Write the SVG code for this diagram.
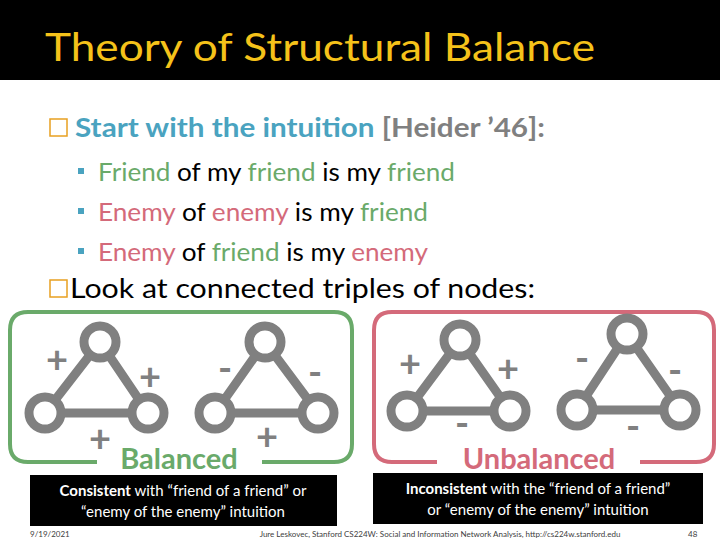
<svg xmlns="http://www.w3.org/2000/svg" width="720" height="540" viewBox="0 0 720 540">
<style>
text{font-family:Lato,"Liberation Sans",sans-serif}
.e{stroke:#808080;stroke-width:9;fill:none}
.n{stroke:#808080;stroke-width:9;fill:#fff}
.s{fill:#808080;font-size:38px;font-weight:bold;text-anchor:middle}
.g{fill:#6aaa6a}.r{fill:#d46a7a}.k{fill:#000}
.w{fill:#fff;font-size:15px;text-anchor:middle}
</style>
<rect width="720" height="540" fill="#fff"/>
<rect width="720" height="80" fill="#000"/>
<text x="45" y="61" font-size="38" fill="#f5c21a" textLength="550" lengthAdjust="spacingAndGlyphs">Theory of Structural Balance</text>
<g font-size="26">
<rect x="50" y="119" width="17" height="17" fill="none" stroke="#e8a020" stroke-width="1.5"/>
<rect x="50" y="280" width="17" height="17" fill="none" stroke="#e8a020" stroke-width="1.5"/>
<text x="75" y="137" textLength="470" lengthAdjust="spacingAndGlyphs"><tspan fill="#4aa3c0" font-weight="bold">Start with the intuition </tspan><tspan fill="#808080" font-weight="bold">[Heider ’46]:</tspan></text>
<text x="70" y="298" textLength="465" lengthAdjust="spacingAndGlyphs" fill="#000">Look at connected triples of nodes:</text>
</g>
<g font-size="25">
<rect x="78" y="168" width="6" height="6" fill="#4aa3c0"/>
<rect x="78" y="208" width="6" height="6" fill="#4aa3c0"/>
<rect x="78" y="248" width="6" height="6" fill="#4aa3c0"/>
<text x="98" y="181" textLength="357" lengthAdjust="spacingAndGlyphs"><tspan class="g">Friend</tspan> of my <tspan class="g">friend</tspan> is my <tspan class="g">friend</tspan></text>
<text x="98" y="221" textLength="330" lengthAdjust="spacingAndGlyphs"><tspan class="r">Enemy</tspan> of <tspan class="r">enemy</tspan> is my <tspan class="g">friend</tspan></text>
<text x="98" y="261" textLength="330" lengthAdjust="spacingAndGlyphs"><tspan class="r">Enemy</tspan> of <tspan class="g">friend</tspan> is my <tspan class="r">enemy</tspan></text>
</g>
<g id="balanced-box">
<path d="M97,462 H28 Q10,462 10,444 V330 Q10,312 28,312 H334 Q352,312 352,330 V444 Q352,462 334,462 H262" fill="none" stroke="#6aaa6a" stroke-width="4"/>
<text x="179" y="469" font-size="29" font-weight="bold" fill="#6aaa6a" text-anchor="middle">Balanced</text>
</g>
<g id="unbalanced-box">
<path d="M437,462 H392 Q374,462 374,444 V330 Q374,312 392,312 H696 Q714,312 714,330 V444 Q714,462 696,462 H640" fill="none" stroke="#d46a7a" stroke-width="4"/>
<text x="539" y="469" font-size="29" font-weight="bold" fill="#d46a7a" text-anchor="middle">Unbalanced</text>
</g>
<g id="connectors">
<path class="e" d="M100,342 L45,413 L148,413 Z"/>
<path class="e" d="M265,342 L215,413 L318,413 Z"/>
<path class="e" d="M460,340 L407,411 L510,411 Z"/>
<path class="e" d="M627,334 L577,410 L680,410 Z"/>
</g>
<g id="t1"><circle class="n" cx="100" cy="342" r="16"/><circle class="n" cx="45" cy="413" r="16"/><circle class="n" cx="148" cy="413" r="16"/></g>
<g id="t2"><circle class="n" cx="265" cy="342" r="16"/><circle class="n" cx="215" cy="413" r="16"/><circle class="n" cx="318" cy="413" r="16"/></g>
<g id="t3"><circle class="n" cx="460" cy="340" r="16"/><circle class="n" cx="407" cy="411" r="16"/><circle class="n" cx="510" cy="411" r="16"/></g>
<g id="t4"><circle class="n" cx="627" cy="334" r="16"/><circle class="n" cx="577" cy="410" r="16"/><circle class="n" cx="680" cy="410" r="16"/></g>
<g id="signs">
<text class="s" x="57" y="373">+</text><text class="s" x="150" y="390">+</text><text class="s" x="100" y="452">+</text>
<text class="s" x="225" y="382">-</text><text class="s" x="315" y="386">-</text><text class="s" x="267" y="450">+</text>
<text class="s" x="410" y="377">+</text><text class="s" x="508" y="382">+</text><text class="s" x="462" y="437">-</text>
<text class="s" x="582" y="372">-</text><text class="s" x="675" y="384">-</text><text class="s" x="633" y="440">-</text>
</g>
<g id="notes">
<rect x="30" y="475" width="307" height="51" fill="#000"/>
<text class="w" x="183" y="496"><tspan font-weight="bold">Consistent</tspan> with “friend of a friend” or</text>
<text class="w" x="183" y="517">“enemy of the enemy” intuition</text>
<rect x="373" y="473" width="330" height="51" fill="#000"/>
<text class="w" x="538" y="494"><tspan font-weight="bold">Inconsistent</tspan> with the “friend of a friend”</text>
<text class="w" x="538" y="515">or “enemy of the enemy” intuition</text>
</g>
<g font-size="8" fill="#404040">
<text x="30" y="537">9/19/2021</text>
<text x="440" y="537" text-anchor="middle">Jure Leskovec, Stanford CS224W: Social and Information Network Analysis, http://cs224w.stanford.edu</text>
<text x="688" y="537">48</text>
</g>
</svg>
